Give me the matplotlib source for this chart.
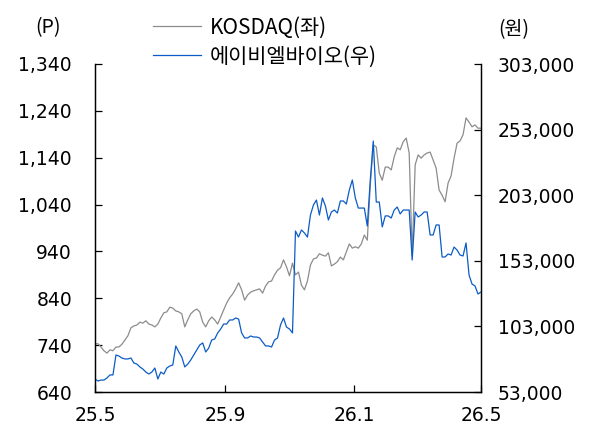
import numpy as np
import pandas as pd
import matplotlib
matplotlib.use('Agg')
import matplotlib.pyplot as plt
from matplotlib.ticker import FuncFormatter

plt.rcParams['font.family'] = ['Noto Sans CJK KR', 'DejaVu Sans']

# KOSDAQ (left axis, P) - evenly spaced samples from 2025-05 to 2026-05
kosdaq = [743, 743, 736, 728, 723, 730, 728, 736, 736, 742,
          751, 760, 777, 781, 783, 789, 787, 792, 785, 783,
          779, 785, 798, 809, 811, 821, 819, 813, 811, 807,
          779, 794, 807, 813, 817, 811, 789, 779, 792, 800,
          794, 785, 800, 815, 830, 841, 849, 860, 873, 858,
          836, 847, 853, 856, 858, 860, 851, 866, 875, 877,
          890, 900, 905, 922, 907, 888, 915, 890, 896, 868,
          858, 877, 911, 924, 926, 935, 932, 930, 937, 909,
          913, 918, 928, 922, 939, 956, 947, 950, 947, 956,
          975, 964, 1082, 1167, 1163, 1107, 1092, 1120, 1120, 1114,
          1142, 1161, 1157, 1174, 1182, 1150, 932, 1125, 1146, 1139,
          1146, 1150, 1152, 1135, 1118, 1071, 1060, 1046, 1086, 1101,
          1139, 1171, 1176, 1189, 1225, 1216, 1206, 1210, 1203, 1203]

# ABL Bio share price (right axis, won)
abl = [62900, 61400, 62100, 62100, 63700, 66000, 66000, 81200, 80400, 78900,
       78200, 78200, 78900, 75100, 74300, 72100, 70500, 68200, 66700, 68200,
       71300, 62900, 68200, 66700, 71300, 72800, 73600, 88100, 83500, 79700,
       72100, 74300, 77400, 81200, 85000, 88800, 90400, 83500, 86500, 92600,
       93400, 98000, 101000, 104800, 104800, 107900, 107900, 109400, 108600, 98000,
       94200, 94200, 95700, 94900, 94900, 94200, 91100, 88100, 88100, 87300,
       92600, 94200, 104100, 109400, 102500, 101000, 98000, 175700, 171100, 176500,
       174200, 171100, 187900, 195500, 199300, 187900, 200900, 194800, 184100, 190200,
       191700, 189400, 198600, 198600, 196300, 207000, 214600, 200900, 193200, 193200,
       193200, 179500, 214600, 244300, 197800, 197800, 178800, 187200, 187200, 185600,
       191700, 194000, 188700, 191700, 191700, 191700, 153600, 190200, 186400, 187900,
       190200, 190200, 172700, 172700, 180300, 180300, 155900, 155900, 158200, 157400,
       163500, 161200, 157400, 156700, 166600, 142200, 135300, 133800, 127700, 129200]

start, end = '2025-05-01', '2026-05-01'
dates = pd.date_range(start, end, periods=len(kosdaq))

xtick_dates = pd.to_datetime(['2025-05-01', '2025-09-01', '2026-01-01', '2026-05-01'])
xtick_labels = ['25.5', '25.9', '26.1', '26.5']
left_ticks = np.arange(640, 1341, 100)
right_ticks = np.arange(53000, 303001, 50000)

fig = plt.figure(figsize=(6.03, 4.24), dpi=100)
ax = fig.add_axes([95 / 603, 1 - 392 / 424, 386 / 603, 328 / 424])
ax2 = ax.twinx()

l1, = ax.plot(dates, kosdaq, color='#8c8c8c', lw=0.9, label='KOSDAQ(좌)')
l2, = ax2.plot(dates, abl, color='#0b5cc6', lw=0.9, label='에이비엘바이오(우)')

ax.set_xlim(pd.Timestamp(start), pd.Timestamp(end))
ax.set_ylim(640, 1340)
ax2.set_ylim(53000, 303000)
ax.set_xticks(xtick_dates)
ax.set_xticklabels(xtick_labels)
ax.set_yticks(left_ticks)
ax2.set_yticks(right_ticks)
ax.yaxis.set_major_formatter(FuncFormatter(lambda v, p: f'{int(v):,}'))
ax2.yaxis.set_major_formatter(FuncFormatter(lambda v, p: f'{int(v):,}'))

for a in (ax, ax2):
    a.spines['top'].set_visible(False)
    for s in a.spines.values():
        s.set_linewidth(0.9)
    a.tick_params(direction='in', length=5, width=0.9, labelsize=13.5)
ax.tick_params(axis='y', pad=16.5)
ax.tick_params(axis='x', pad=10)
ax2.tick_params(axis='y', pad=12)
for lab in ax.get_xticklabels() + ax.get_yticklabels() + ax2.get_yticklabels():
    lab.set_fontfamily('DejaVu Sans')

fig.text(48 / 603, 1 - 28 / 424, '(P)', ha='center', va='center', fontsize=14)
fig.text(514 / 603, 1 - 30 / 424, '(원)', ha='center', va='center', fontsize=14)

fig.legend(handles=[l1, l2], loc='upper left', bbox_to_anchor=(145 / 603, 1 - 8 / 424),
           frameon=False, fontsize=15, handlelength=2.3, handletextpad=0.4,
           labelspacing=0.35, borderaxespad=0)

fig.savefig('out.png', dpi=100)
